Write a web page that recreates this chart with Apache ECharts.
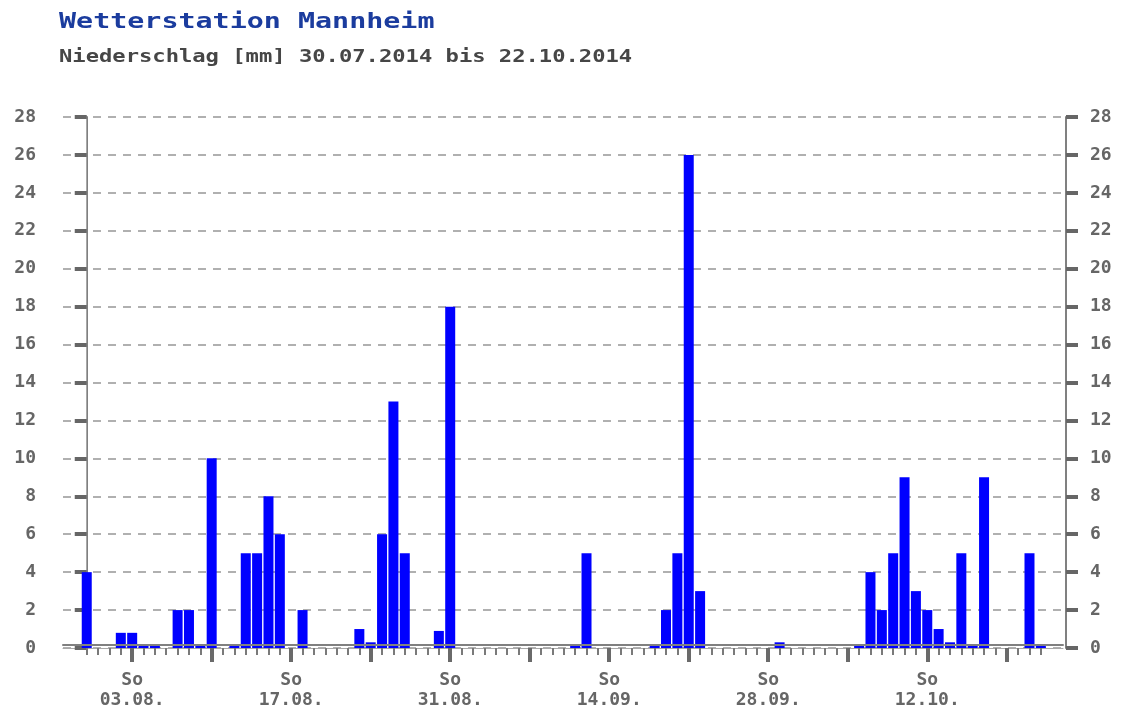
<!DOCTYPE html>
<html>
<head>
<meta charset="utf-8">
<script src="https://cdn.jsdelivr.net/npm/echarts@6/dist/echarts.min.js"></script>
<style>
  html, body { margin: 0; padding: 0; background: #ffffff; }
  #chart { width: 1126px; height: 715px; }
</style>
</head>
<body>
<div id="chart"></div>
<script>
// Daily precipitation [mm], 30.07.2014 (index 0) .. 22.10.2014 (index 84)
const precipitation = [
  4, 0, 0, 0.8, 0.8, 0.2, 0.2,
  0, 2, 2, 0.2, 10, 0, 0.2,
  5, 5, 8, 6, 0, 2, 0,
  0, 0, 0, 1, 0.3, 6, 13,
  5, 0, 0, 0.9, 18, 0, 0,
  0, 0, 0, 0, 0, 0, 0,
  0, 0.2, 5, 0, 0, 0, 0,
  0, 0.2, 2, 5, 26, 3, 0,
  0, 0, 0, 0, 0, 0.3, 0,
  0, 0, 0, 0, 0, 0.2, 4,
  2, 5, 9, 3, 2, 1, 0.3,
  5, 0.2, 9, 0, 0, 0, 5,
  0.2
];
// Day indices of Sundays (major ticks)
const sundayIndex = [4, 11, 18, 25, 32, 39, 46, 53, 60, 67, 74, 81];
// Labelled Sundays and their labels
const labelIndex = [4, 18, 32, 46, 60, 74];
const tickLabels = ['So\n03.08.', 'So\n17.08.', 'So\n31.08.', 'So\n14.09.', 'So\n28.09.', 'So\n12.10.'];
const yTicks = [0, 2, 4, 6, 8, 10, 12, 14, 16, 18, 20, 22, 24, 26, 28];

const titleText = 'Wetterstation Mannheim';
const subtitleText = 'Niederschlag [mm] 30.07.2014 bis 22.10.2014';

const FONT = '"DejaVu Sans Mono", "Liberation Mono", monospace';
const dayIndex = precipitation.map((_, i) => i);
const barData = precipitation.map((v, i) => [i, v]);

const X_MIN = -2.09, X_MAX = 85.95;
const labelStyle = { fontFamily: FONT, fontWeight: 'bold', fontSize: 18, color: '#666666' };

const chart = echarts.init(document.getElementById('chart'), null, { renderer: 'canvas' });
chart.setOption({
  animation: false,
  backgroundColor: '#ffffff',
  graphic: [
    { type: 'text', x: 59, y: 23, scaleX: 1.35, scaleY: 1,
      style: { text: titleText, font: 'bold 21px ' + FONT, fill: '#1b3c9e', verticalAlign: 'middle' } },
    { type: 'text', x: 59, y: 57, scaleX: 1.23, scaleY: 1,
      style: { text: subtitleText, font: 'bold 18px ' + FONT, fill: '#464646', verticalAlign: 'middle' } }
  ],
  grid: { left: 63, right: 63, top: 117, bottom: 67, containLabel: false },
  xAxis: [
    { type: 'value', min: X_MIN, max: X_MAX, position: 'bottom',
      axisLine: { show: true, onZero: false, lineStyle: { color: '#a8a8a8', width: 1 } },
      axisTick: { show: true, customValues: dayIndex, length: 7, lineStyle: { color: '#7a7a7a', width: 2 } },
      axisLabel: { show: false }, splitLine: { show: false } },
    { type: 'value', min: X_MIN, max: X_MAX, position: 'bottom', offset: -3, z: 5,
      axisLine: { show: true, onZero: false, lineStyle: { color: '#808080', width: 2 } },
      axisTick: { show: false }, axisLabel: { show: false }, splitLine: { show: false } },
    { type: 'value', min: X_MIN, max: X_MAX, position: 'bottom',
      axisLine: { show: false, onZero: false },
      axisTick: { show: true, customValues: sundayIndex, length: 14, lineStyle: { color: '#6a6a6a', width: 4 } },
      axisLabel: Object.assign({ show: true, customValues: labelIndex, margin: 22, lineHeight: 20,
        formatter: (v) => { const k = labelIndex.indexOf(Math.round(v)); return k >= 0 ? tickLabels[k] : ''; } }, labelStyle),
      splitLine: { show: false } }
  ],
  yAxis: [
    { type: 'value', min: 0, max: 28, interval: 2, position: 'left',
      axisLine: { show: true, lineStyle: { color: '#a8a8a8', width: 1 } },
      axisTick: { show: false }, axisLabel: { show: false },
      splitLine: { show: true, lineStyle: { color: '#b0b0b0', width: 2, type: [8, 7] } } },
    { type: 'value', min: 0, max: 28, interval: 2, position: 'left', offset: 3,
      axisLine: { show: true, lineStyle: { color: '#808080', width: 2 } },
      axisTick: { show: true, length: 12, lineStyle: { color: '#666666', width: 4 } },
      axisLabel: Object.assign({ margin: 24, customValues: yTicks }, labelStyle),
      splitLine: { show: false } },
    { type: 'value', min: 0, max: 28, interval: 2, position: 'right',
      axisLine: { show: true, lineStyle: { color: '#a8a8a8', width: 1 } },
      axisTick: { show: false }, axisLabel: { show: false }, splitLine: { show: false } },
    { type: 'value', min: 0, max: 28, interval: 2, position: 'right', offset: 3,
      axisLine: { show: true, lineStyle: { color: '#808080', width: 2 } },
      axisTick: { show: true, length: 12, lineStyle: { color: '#666666', width: 4 } },
      axisLabel: Object.assign({ margin: 24, customValues: yTicks }, labelStyle),
      splitLine: { show: false } }
  ],
  series: [
    { type: 'bar', xAxisIndex: 0, yAxisIndex: 0, data: barData, barWidth: 10,
      itemStyle: { color: '#0000ff' } }
  ]
});
</script>
</body>
</html>
